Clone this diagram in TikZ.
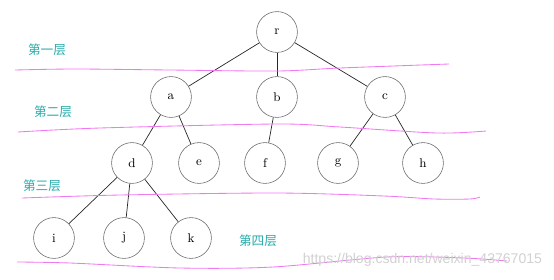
\documentclass[tikz,border=0pt]{standalone}
\usepackage{fontspec}
\setsansfont{Liberation Sans}
\newfontfamily\cjk{Noto Sans CJK SC}
\usepackage{tikz}
\definecolor{levelcol}{RGB}{40,170,170}
\definecolor{penline}{RGB}{240,120,240}
\tikzset{
  vertex/.style={draw=black!60, circle, minimum size=1.02cm, inner sep=0pt, font=\small},
  branch/.style={draw=black!85, line width=0.5pt},
  level/.style={text=levelcol, font=\cjk\fontsize{9}{10}\selectfont},
  divider/.style={penline, line width=0.6pt}
}

\begin{document}
\begin{tikzpicture}[x=0.025cm, y=-0.025cm]
		%%%%% START %%%%%
		\useasboundingbox (0, 0) rectangle (554, 279);
		
		% the tree
		\node[vertex] (r) at (277, 32) {r};
		
		\node[vertex] (a) at (171, 97) {a};
		\node[vertex] (b) at (277, 97) {b};
		\node[vertex] (c) at (385, 97) {c};
		
		\node[vertex] (d) at (132, 163) {d};
		\node[vertex] (e) at (199, 163) {e};
		\node[vertex] (f) at (265, 163) {f};
		\node[vertex] (g) at (338, 163) {g};
		\node[vertex] (h) at (423, 163) {h};
		
		\node[vertex] (i) at (54, 238) {i};
		\node[vertex] (j) at (124, 238) {j};
		\node[vertex] (k) at (191, 238) {k};
		
		\draw[branch] (r) -- (a);
		\draw[branch] (r) -- (b);
		\draw[branch] (r) -- (c);
		\draw[branch] (a) -- (d);
		\draw[branch] (a) -- (e);
		\draw[branch] (b) -- (f);
		\draw[branch] (c) -- (g);
		\draw[branch] (c) -- (h);
		\draw[branch] (d) -- (i);
		\draw[branch] (d) -- (j);
		\draw[branch] (d) -- (k);
		
		% level names
		\node[level] (l1) at (47, 50) {第一层};
		\node[level] (l2) at (53, 112) {第二层};
		\node[level] (l3) at (42, 186) {第三层};
		\node[level] (l4) at (258, 241) {第四层};
		
		% hand drawn dividers
		\draw[divider] plot[smooth] coordinates {(15, 70) (75, 69) (170, 70) (277, 71) (340, 68) (449, 64)};
		\draw[divider] plot[smooth] coordinates {(18, 132) (100, 128) (277, 124) (340, 127) (437, 133) (486, 131)};
		\draw[divider] plot[smooth] coordinates {(22, 198) (120, 195) (277, 193) (384, 196) (434, 199) (470, 199) (480, 197)};
		\draw[divider] plot[smooth] coordinates {(17, 262) (70, 263) (180, 268) (273, 267) (387, 257) (464, 258) (507, 261)};
		
		\node[anchor=east, text=black!18, font=\sffamily\fontsize{10}{12}\selectfont] (wm) at (547, 260) {https://blog.csdn.net/weixin\_43767015};
		%%%%% END %%%%%
	\end{tikzpicture}
\end{document}
